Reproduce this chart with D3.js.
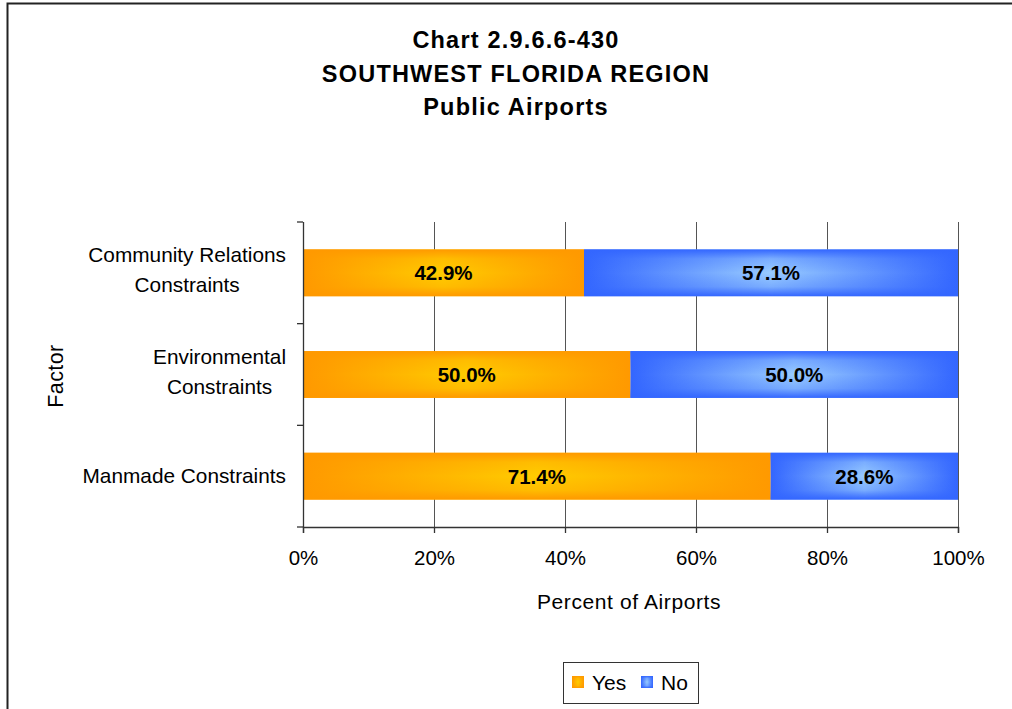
<!DOCTYPE html>
<html><head><meta charset="utf-8">
<script src="https://cdn.jsdelivr.net/npm/d3@7"></script>
<style>
html,body{margin:0;padding:0;background:#fff;}
svg{display:block;font-family:"Liberation Sans",Arial,Helvetica,sans-serif;}
</style></head>
<body>
<svg id="c" width="1012" height="709"></svg>
<script>
const titleLines = ["Chart 2.9.6.6-430", "SOUTHWEST FLORIDA REGION", "Public Airports"];
const categories = [["Community Relations","Constraints"], ["Environmental","Constraints"], ["Manmade Constraints"]];
const seriesNames = ["Yes", "No"];
const yesValues = [42.9, 50.0, 71.4];
const noValues = [57.1, 50.0, 28.6];
const xTicks = [0, 20, 40, 60, 80, 100];
const xTitle = "Percent of Airports";
const yTitle = "Factor";

const svg = d3.select("#c");
const m = {left: 303, right: 958, top: 222, bottom: 527};

// outer frame
svg.append("rect").attr("x", 7.5).attr("y", 3.5).attr("width", 1100).attr("height", 800)
  .attr("fill", "none").attr("stroke", "#222").attr("stroke-width", 2);

// gradients
const defs = svg.append("defs");
function hGrad(id, edge, mid) {
  const g = defs.append("linearGradient").attr("id", id).attr("x1", "0").attr("x2", "1").attr("y1", "0").attr("y2", "0");
  g.append("stop").attr("offset", "0").attr("stop-color", edge);
  g.append("stop").attr("offset", "0.5").attr("stop-color", mid);
  g.append("stop").attr("offset", "1").attr("stop-color", edge);
}
function vGrad(id, edge) {
  const g = defs.append("linearGradient").attr("id", id).attr("x1", "0").attr("x2", "0").attr("y1", "0").attr("y2", "1");
  g.append("stop").attr("offset", "0").attr("stop-color", edge).attr("stop-opacity", 1);
  g.append("stop").attr("offset", "0.2").attr("stop-color", edge).attr("stop-opacity", 0.3);
  g.append("stop").attr("offset", "0.5").attr("stop-color", edge).attr("stop-opacity", 0);
  g.append("stop").attr("offset", "0.8").attr("stop-color", edge).attr("stop-opacity", 0.3);
  g.append("stop").attr("offset", "1").attr("stop-color", edge).attr("stop-opacity", 1);
}
const colors = {Yes: {edge: "#FF9900", mid: "#FFCC00"}, No: {edge: "#3366FF", mid: "#99CCFF"}};
seriesNames.forEach(s => { hGrad("h" + s, colors[s].edge, colors[s].mid); vGrad("v" + s, colors[s].edge); });

// title
const title = svg.append("text").attr("text-anchor", "middle").attr("font-weight", "bold")
  .attr("font-size", 23.5).attr("letter-spacing", 1.2).attr("fill", "#000");
titleLines.forEach((t, i) => {
  title.append("tspan").attr("x", 516).attr("y", 48 + i * 33.5).text(t);
});

// scales
const x = d3.scaleLinear().domain([0, 100]).range([m.left, m.right]);
const y = d3.scaleBand().domain(d3.range(categories.length)).range([m.top, m.bottom]).paddingInner(0.54).paddingOuter(0.27);
const yTickScale = d3.scaleBand().domain(d3.range(categories.length)).range([m.top, m.bottom]);

// gridlines
svg.append("g").selectAll("line").data(xTicks.filter(d => d > 0)).join("line")
  .attr("x1", d => x(d)).attr("x2", d => x(d)).attr("y1", m.top).attr("y2", m.bottom)
  .attr("stroke", "#555").attr("stroke-width", 1).attr("shape-rendering", "crispEdges");

// bars
const stacked = categories.map((c, i) => [
  {s: "Yes", x0: 0, x1: yesValues[i], v: yesValues[i], i},
  {s: "No", x0: yesValues[i], x1: yesValues[i] + noValues[i], v: noValues[i], i}
]).flat();
const bars = svg.append("g");
stacked.forEach(d => {
  const bx = x(d.x0), bw = x(Math.min(100, d.x1)) - x(d.x0), by = y(d.i), bh = y.bandwidth();
  bars.append("rect").attr("x", bx).attr("y", by).attr("width", bw).attr("height", bh).attr("fill", `url(#h${d.s})`);
  bars.append("rect").attr("x", bx).attr("y", by).attr("width", bw).attr("height", bh).attr("fill", `url(#v${d.s})`);
  bars.append("text").attr("x", bx + bw / 2).attr("y", by + bh / 2).attr("dy", "0.36em")
    .attr("text-anchor", "middle").attr("font-weight", "bold").attr("font-size", 20.5).attr("fill", "#000")
    .text(d.v.toFixed(1) + "%");
});

// y axis
const ya = svg.append("g");
ya.append("line").attr("x1", m.left + 0.5).attr("x2", m.left + 0.5).attr("y1", m.top).attr("y2", m.bottom)
  .attr("stroke", "#333").attr("stroke-width", 1.3);
const yTickPos = [m.top, ...categories.map((c, i) => yTickScale(i) + yTickScale.bandwidth())];
ya.selectAll("line.t").data(yTickPos).join("line").attr("class", "t")
  .attr("x1", m.left - 6).attr("x2", m.left).attr("y1", d => d).attr("y2", d => d)
  .attr("stroke", "#333").attr("stroke-width", 1.3);

// x axis
const xAxis = d3.axisBottom(x).tickValues(xTicks).tickSize(6).tickFormat(d => d + "%");
const xg = svg.append("g").attr("transform", `translate(0,${m.bottom})`).call(xAxis);
xg.select(".domain").attr("stroke", "#333").attr("stroke-width", 1.3);
xg.selectAll(".tick line").attr("stroke", "#333").attr("stroke-width", 1.3);
xg.selectAll(".tick text").attr("font-size", 20.5).attr("fill", "#000").attr("font-family", "Liberation Sans, Arial, sans-serif").attr("y", 31).attr("dy", "0.36em");

// category labels
categories.forEach((lines, i) => {
  const cy = yTickScale(i) + yTickScale.bandwidth() / 2 - (lines.length > 1 ? 3 : 1);
  const t = svg.append("text").attr("font-size", 20.8).attr("text-anchor", "middle").attr("fill", "#000");
  lines.forEach((l, j) => {
    t.append("tspan").attr("y", cy + (j - (lines.length - 1) / 2) * 30).attr("dy", "0.36em").text(l);
  });
  let maxW = 0;
  t.selectAll("tspan").each(function() { maxW = Math.max(maxW, this.getComputedTextLength()); });
  t.selectAll("tspan").attr("x", 286 - maxW / 2);
});

// axis titles
svg.append("text").attr("x", 629).attr("y", 601).attr("dy", "0.36em")
  .attr("text-anchor", "middle").attr("font-size", 21).attr("letter-spacing", 0.6).text(xTitle);
svg.append("text").attr("transform", "translate(55,376) rotate(-90)").attr("dy", "0.36em")
  .attr("text-anchor", "middle").attr("font-size", 21.5).attr("letter-spacing", 0.4).text(yTitle);

// legend
const lg = svg.append("g");
lg.append("rect").attr("x", 563.5).attr("y", 662.5).attr("width", 135).attr("height", 41)
  .attr("fill", "#fff").attr("stroke", "#333").attr("stroke-width", 1);
const legendX = [572, 641];
seriesNames.forEach((s, i) => {
  lg.append("rect").attr("x", legendX[i]).attr("y", 676).attr("width", 12).attr("height", 12).attr("fill", `url(#h${s})`);
  lg.append("rect").attr("x", legendX[i]).attr("y", 676).attr("width", 12).attr("height", 12).attr("fill", `url(#v${s})`);
  lg.append("text").attr("x", legendX[i] + 20).attr("y", 682).attr("dy", "0.36em").attr("font-size", 21).text(s);
});
</script>
</body></html>
